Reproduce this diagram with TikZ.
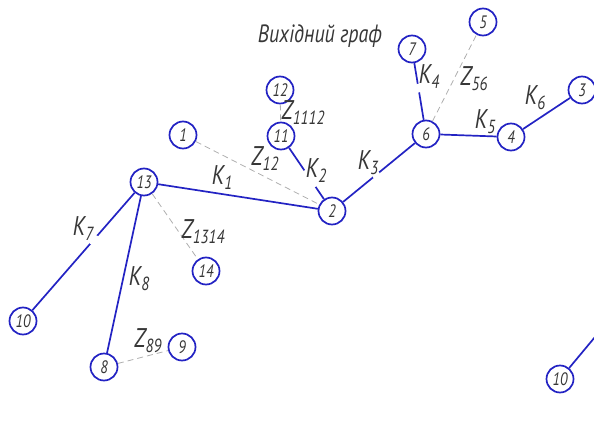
\documentclass[tikz,border=0pt]{standalone}
\usepackage{fontspec}
\setmainfont{PT Sans}[FakeStretch=0.8]
\usetikzlibrary{positioning}
\definecolor{vblue}{RGB}{35,35,195}
\definecolor{ink}{RGB}{55,55,55}
\definecolor{zgray}{RGB}{175,175,175}
\newcommand{\lab}[2]{#1\raisebox{-5pt}{\fontsize{19}{19}\selectfont#2}}

\begin{document}
\begin{tikzpicture}[
        x=1pt, y=-1pt,
        vertex/.style={circle, draw=vblue, line width=1.7pt, minimum size=27pt, inner sep=0pt, text=ink, font=\itshape\fontsize{18}{18}\selectfont},
        branch/.style={draw=vblue, line width=1.7pt},
        chord/.style={draw=zgray, line width=0.8pt, dash pattern=on 6pt off 4pt},
        gapmark/.style={circle, fill=white, inner sep=0pt},
        lbl/.style={text=ink, inner sep=0pt, font=\itshape\fontsize{27}{27}\selectfont}
    ]
    \useasboundingbox (0,0) rectangle (594,444);

    % Title
    \node[lbl, font=\itshape\fontsize{25}{25}\selectfont] (title) at (320,36) {Вихідний граф};

    % Vertices
    \node[vertex] (n1) at (183,135) {1};
    \node[vertex] (n2) at (332,211) {2};
    \node[vertex] (n3) at (582,90) {3};
    \node[vertex] (n4) at (511,137) {4};
    \node[vertex] (n5) at (483,22) {5};
    \node[vertex] (n6) at (426,134) {6};
    \node[vertex] (n7) at (412,49) {7};
    \node[vertex] (n8) at (104,367) {8};
    \node[vertex] (n9) at (182,347) {9};
    \node[vertex] (n10) at (23,321) {10};
    \node[vertex] (n10r) at (560,379) {10};
    \node[vertex] (n11) at (281,136) {11};
    \node[vertex] (n12) at (280,90) {12};
    \node[vertex] (n13) at (144,182) {13};
    \node[vertex] (n14) at (206,271) {14};
    \coordinate (off) at (605,325);

    % Tree branches
    \draw[branch] (n13) -- (n2);
    \draw[branch] (n11) -- (n2) node[gapmark, pos=.6, minimum size=20pt] {};
    \draw[branch] (n2) -- (n6) node[gapmark, pos=.46, minimum size=8pt] {};
    \draw[branch] (n7) -- (n6) node[gapmark, pos=.44, minimum size=9pt] {};
    \draw[branch] (n6) -- (n4);
    \draw[branch] (n4) -- (n3);
    \draw[branch] (n13) -- (n10) node[gapmark, pos=.4, minimum size=11pt] {};
    \draw[branch] (n13) -- (n8);
    \draw[branch] (n10r) -- (off);

    % Chords
    \draw[chord] (n1) -- (n2);
    \draw[chord] (n12) -- (n11);
    \draw[chord] (n6) -- (n5);
    \draw[chord] (n13) -- (n14);
    \draw[chord] (n8) -- (n9);

    % Labels
    \node[lbl] (k1) at (222,178) {\lab{K}{1}};
    \node[lbl] (k2) at (316,171) {\lab{K}{2}};
    \node[lbl] (k3) at (368,163) {\lab{K}{3}};
    \node[lbl] (k4) at (429,77) {\lab{K}{4}};
    \node[lbl] (k5) at (485,122) {\lab{K}{5}};
    \node[lbl] (k6) at (535,98) {\lab{K}{6}};
    \node[lbl] (k7) at (83,229) {\lab{K}{7}};
    \node[lbl] (k8) at (139,279) {\lab{K}{8}};
    \node[lbl] (z12) at (265,159) {\lab{Z}{12}};
    \node[lbl] (z1112) at (303,113) {\lab{Z}{1112}};
    \node[lbl] (z56) at (474,79) {\lab{Z}{56}};
    \node[lbl] (z1314) at (203,232) {\lab{Z}{1314}};
    \node[lbl] (z89) at (148,341) {\lab{Z}{89}};

\end{tikzpicture}
\end{document}
